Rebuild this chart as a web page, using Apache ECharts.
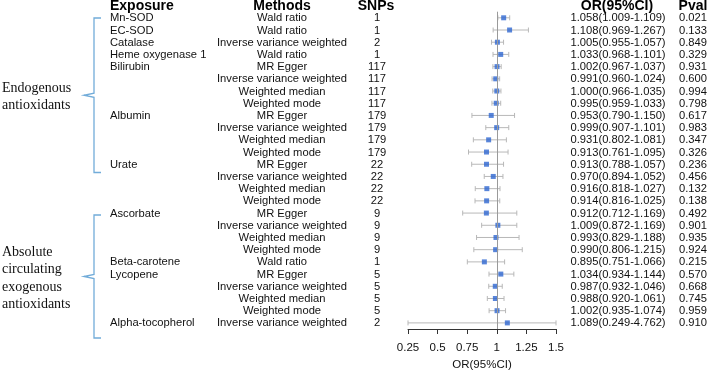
<!DOCTYPE html>
<html>
<head>
<meta charset="utf-8">
<script src="https://cdn.jsdelivr.net/npm/echarts@6/dist/echarts.min.js"></script>
<style>
  html, body { margin: 0; padding: 0; background: #fff; }
  #forest { width: 709px; height: 376px; }
</style>
</head>
<body>
<div id="forest"></div>
<script>
// 数据
const exposures = ["Mn-SOD", "EC-SOD", "Catalase", "Heme oxygenase 1", "Bilirubin", "", "", "",
  "Albumin", "", "", "", "Urate", "", "", "", "Ascorbate", "", "", "", "Beta-carotene",
  "Lycopene", "", "", "", "Alpha-tocopherol"];
const methods = ["Wald ratio", "Wald ratio", "Inverse variance weighted", "Wald ratio",
  "MR Egger", "Inverse variance weighted", "Weighted median", "Weighted mode",
  "MR Egger", "Inverse variance weighted", "Weighted median", "Weighted mode",
  "MR Egger", "Inverse variance weighted", "Weighted median", "Weighted mode",
  "MR Egger", "Inverse variance weighted", "Weighted median", "Weighted mode",
  "Wald ratio",
  "MR Egger", "Inverse variance weighted", "Weighted median", "Weighted mode",
  "Inverse variance weighted"];
const snps = [1, 1, 2, 1, 117, 117, 117, 117, 179, 179, 179, 179, 22, 22, 22, 22, 9, 9, 9, 9, 1, 5, 5, 5, 5, 2];
const orVal = [1.058, 1.108, 1.005, 1.033, 1.002, 0.991, 1.000, 0.995, 0.953, 0.999, 0.931, 0.913,
  0.913, 0.970, 0.916, 0.914, 0.912, 1.009, 0.993, 0.990, 0.895, 1.034, 0.987, 0.988, 1.002, 1.089];
const ciLow = [1.009, 0.969, 0.955, 0.968, 0.967, 0.960, 0.966, 0.959, 0.790, 0.907, 0.802, 0.761,
  0.788, 0.894, 0.818, 0.816, 0.712, 0.872, 0.829, 0.806, 0.751, 0.934, 0.932, 0.920, 0.935, 0.249];
const ciHigh = [1.109, 1.267, 1.057, 1.101, 1.037, 1.024, 1.035, 1.033, 1.150, 1.101, 1.081, 1.095,
  1.057, 1.052, 1.027, 1.025, 1.169, 1.169, 1.188, 1.215, 1.066, 1.144, 1.046, 1.061, 1.074, 4.762];
const pval = ["0.021", "0.133", "0.849", "0.329", "0.931", "0.600", "0.994", "0.798", "0.617", "0.983",
  "0.347", "0.326", "0.236", "0.456", "0.132", "0.138", "0.492", "0.901", "0.935", "0.924", "0.215",
  "0.570", "0.668", "0.745", "0.959", "0.910"];
const xTicks = [0.25, 0.5, 0.75, 1, 1.25, 1.5];

const xMin = 0.25, xMax = 1.5;
const rows = orVal.map(function (v, i) { return String(i); });
const sans = "'Liberation Sans', Arial, sans-serif";
const serif = "'Liberation Serif', 'Times New Roman', serif";

// 文字列
function textColumn(name, x, align, getText) {
  return {
    type: "custom",
    name: name,
    clip: false,
    silent: true,
    data: rows.map(function (r, i) { return [xMin, i]; }),
    renderItem: function (params, api) {
      let i = api.value(1);
      let y = api.coord([xMin, i])[1];
      return {
        type: "text",
        style: {
          x: x, y: y + 0.5, text: getText(i),
          fill: "#111", font: "11.2px " + sans,
          align: align, verticalAlign: "middle"
        }
      };
    }
  };
}

// 括号
function bracket(y1, y2, x, tipX) {
  let ym = (y1 + y2) / 2;
  let c = "#72acd9";
  return {
    type: "polyline",
    shape: { points: [[x + 7, y1], [x, y1], [x, ym - 2], [tipX, ym], [x, ym + 2], [x, y2], [x + 7, y2]] },
    style: { stroke: c, lineWidth: 1.3, fill: null }
  };
}

function headerText(x, text, align) {
  return {
    type: "text",
    style: { x: x, y: 6, text: text, font: "bold 14px " + sans, fill: "#000", align: align, verticalAlign: "middle" }
  };
}

function sideText(y, lines) {
  return lines.map(function (t, k) {
    return {
      type: "text",
      style: { x: 2, y: y + k * 17.5, text: t, font: "14px " + serif, fill: "#111", align: "left", verticalAlign: "middle" }
    };
  });
}

let chart = echarts.init(document.getElementById("forest"));
let option = {
  animation: false,
  grid: { left: 408, right: 153, top: 11.7, bottom: 38.2 },
  xAxis: {
    type: "value",
    min: xMin, max: xMax, interval: 0.25,
    splitLine: { show: false },
    axisLine: { show: true, lineStyle: { color: "#333", width: 1 } },
    axisTick: { show: true, length: 5, lineStyle: { color: "#333" } },
    axisLabel: {
      color: "#111", fontSize: 11.5, fontFamily: sans, margin: 13,
      formatter: function (v) {
        let hit = xTicks.find(function (t) { return Math.abs(t - v) < 1e-6; });
        return hit === undefined ? "" : String(hit);
      }
    },
    name: "OR(95%CI)",
    nameLocation: "middle",
    nameGap: 30,
    nameTextStyle: { color: "#111", fontSize: 11.5, fontFamily: sans }
  },
  yAxis: {
    type: "category",
    data: rows,
    inverse: true,
    show: false
  },
  graphic: [
    headerText(110, "Exposure", "left"),
    headerText(282, "Methods", "center"),
    headerText(376, "SNPs", "center"),
    headerText(617, "OR(95%CI)", "center"),
    headerText(693, "Pval", "center"),
    bracket(18, 172.5, 94, 84),
    bracket(215, 338, 94, 84)
  ].concat(sideText(88, ["Endogenous", "antioxidants"]))
   .concat(sideText(252, ["Absolute", "circulating", "exogenous", "antioxidants"])),
  series: [
    // 误差线
    {
      type: "custom",
      name: "ci",
      silent: true,
      z: 2,
      data: orVal.map(function (v, i) {
        return [i, Math.max(ciLow[i], xMin), Math.min(ciHigh[i], xMax)];
      }),
      renderItem: function (params, api) {
        let i = api.value(0);
        let a = api.coord([api.value(1), i]);
        let b = api.coord([api.value(2), i]);
        let st = { stroke: "#b8b8b8", lineWidth: 1 };
        return {
          type: "group",
          children: [
            { type: "line", shape: { x1: a[0], y1: a[1], x2: b[0], y2: b[1] }, style: st },
            { type: "line", shape: { x1: a[0], y1: a[1] - 2.5, x2: a[0], y2: a[1] + 2.5 }, style: st },
            { type: "line", shape: { x1: b[0], y1: b[1] - 2.5, x2: b[0], y2: b[1] + 2.5 }, style: st }
          ]
        };
      }
    },
    // 点
    {
      type: "scatter",
      name: "OR",
      symbol: "rect",
      symbolSize: 5,
      z: 3,
      itemStyle: { color: "#2e66d1" },
      data: orVal.map(function (v, i) { return [v, i]; }),
      markLine: {
        silent: true,
        symbol: "none",
        label: { show: false },
        lineStyle: { color: "#9a9a9a", type: "solid", width: 1 },
        data: [{ xAxis: 1 }]
      }
    },
    textColumn("exposure", 110, "left", function (i) { return exposures[i]; }),
    textColumn("methods", 282, "center", function (i) { return methods[i]; }),
    textColumn("snps", 377, "center", function (i) { return String(snps[i]); }),
    textColumn("or", 618, "center", function (i) {
      return orVal[i].toFixed(3) + "(" + ciLow[i].toFixed(3) + "-" + ciHigh[i].toFixed(3) + ")";
    }),
    textColumn("pval", 693, "center", function (i) { return pval[i]; })
  ]
};
chart.setOption(option);
</script>
</body>
</html>
